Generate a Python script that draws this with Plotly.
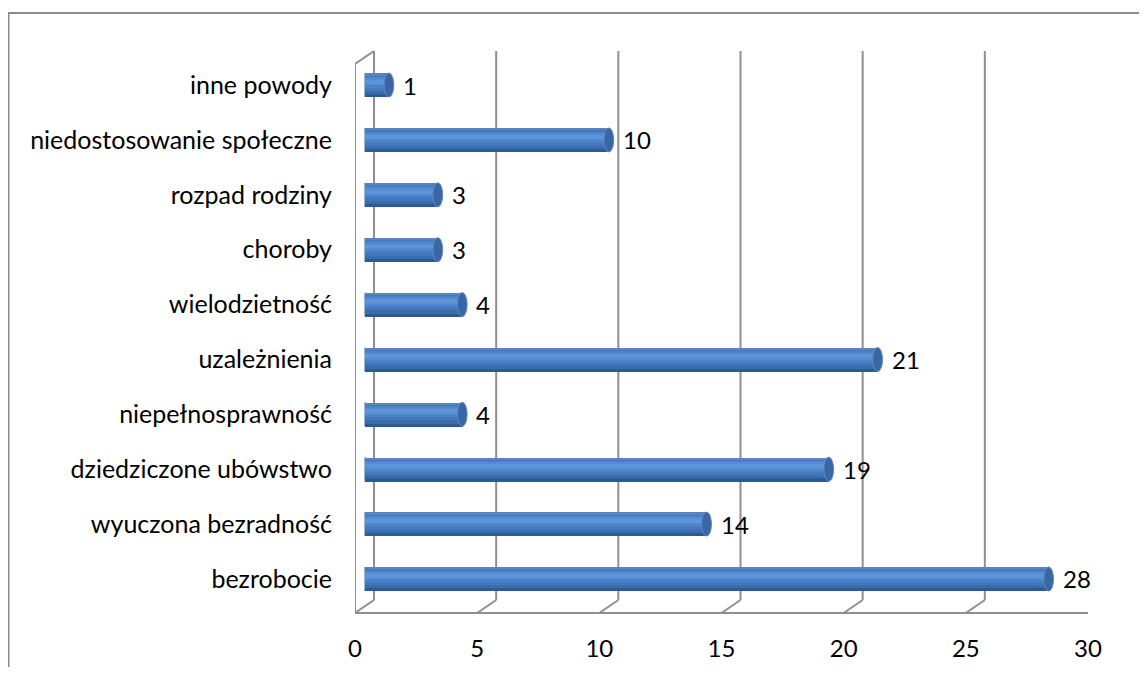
import plotly.graph_objects as go

# ---- data ----
categories = ["bezrobocie", "wyuczona bezradność", "dziedziczone ubówstwo",
              "niepełnosprawność", "uzależnienia", "wielodzietność", "choroby",
              "rozpad rodziny", "niedostosowanie społeczne", "inne powody"]
values = [28, 14, 19, 4, 21, 4, 3, 3, 10, 1]
tick_values = [0, 5, 10, 15, 20, 25, 30]
tick_labels = ["0", "5", "10", "15", "20", "25", "30"]

# page body has an 8px margin: figure is sized to fit the window
OFF = 8
W, H = 1147 - 2 * OFF, 675 - 2 * OFF
def px(x): return (x - OFF) / W
def py(y): return 1 - (y - OFF) / H

FONT = "Lato"
FS_CAT = 25
FS_NUM = 24
WALL = "#8f8f8f"
DX, DY = 19, 13          # 3D depth offset in pixels
FLOOR_Y = 613
WALL_H = 549

fig = go.Figure()

# invisible trace to activate the front axis
fig.add_trace(go.Scatter(x=[0], y=[categories[0]], mode="markers",
                         marker=dict(opacity=0), hoverinfo="skip",
                         showlegend=False, xaxis="x", yaxis="y"))

# cylinder shading: stacked bar layers of the same values
half = 0.2185
layers = [
    (-half, 2 * half, "#2d5a92"),
    (-0.16, 0.16 + half, "#3b6cad"),
    (-0.10, 0.10 + 0.19, "#4478bc"),
    (-0.04, 0.04 + 0.16, "#4d83c8"),
    (0.0, 0.13, "#558cd1"),
    (0.03, 0.07, "#5d95d9"),
    (0.19, half - 0.19, "#5a84bf"),
]
for off, wid, col in layers:
    fig.add_trace(go.Bar(orientation="h", x=values, y=categories,
                         xaxis="x2", yaxis="y", width=wid, offset=off,
                         marker=dict(color=col, line=dict(width=0)),
                         hoverinfo="skip", showlegend=False))

shapes = []
# outer chart border (left and top edges; right/bottom lie outside the view)
shapes.append(dict(type="path", xref="paper", yref="paper",
                   path=f"M {px(8.5)},0 L {px(8.5)},{py(13)} L 1,{py(13)}",
                   line=dict(color="#8a8a8a", width=2), layer="below"))
# back wall gridlines and floor slants
for t in tick_values:
    shapes.append(dict(type="line", xref="x", xsizemode="pixel", xanchor=t,
                       x0=DX, x1=DX, yref="paper", ysizemode="pixel",
                       yanchor=py(FLOOR_Y), y0=DY, y1=DY + WALL_H,
                       line=dict(color=WALL, width=2), layer="below"))
    shapes.append(dict(type="line", xref="x", xsizemode="pixel", xanchor=t,
                       x0=0, x1=DX, yref="paper", ysizemode="pixel",
                       yanchor=py(FLOOR_Y), y0=0, y1=DY,
                       line=dict(color=WALL, width=2), layer="below"))
# front floor edge
shapes.append(dict(type="line", xref="x", x0=tick_values[0], x1=tick_values[-1],
                   yref="paper", y0=py(FLOOR_Y), y1=py(FLOOR_Y),
                   line=dict(color=WALL, width=2), layer="below"))
# left wall front edge and top slant
shapes.append(dict(type="line", xref="x", xsizemode="pixel", xanchor=0,
                   x0=0, x1=0, yref="paper", ysizemode="pixel",
                   yanchor=py(FLOOR_Y), y0=0, y1=WALL_H,
                   line=dict(color=WALL, width=2), layer="below"))
shapes.append(dict(type="line", xref="x", xsizemode="pixel", xanchor=0,
                   x0=0, x1=DX, yref="paper", ysizemode="pixel",
                   yanchor=py(FLOOR_Y), y0=WALL_H, y1=WALL_H + DY,
                   line=dict(color=WALL, width=2), layer="below"))

# cylinder ends
for i, v in enumerate(values):
    shapes.append(dict(type="circle", xref="x2", yref="y",
                       x0=-0.2, x1=0.2, y0=i - half, y1=i + half,
                       fillcolor="#3f70b2", line=dict(width=0), layer="below"))
    shapes.append(dict(type="circle", xref="x2", yref="y",
                       x0=v - 0.2, x1=v + 0.2, y0=i - half, y1=i + half,
                       fillcolor="#3a66a3", line=dict(color="#5d88c4", width=1),
                       layer="above"))

annotations = []
for i, v in enumerate(values):
    annotations.append(dict(x=v, y=i, xref="x2", yref="y", text=str(v),
                            xanchor="left", yanchor="middle", xshift=12,
                            showarrow=False,
                            font=dict(family=FONT, size=FS_NUM, color="#000")))

fig.update_layout(
    width=W, height=H,
    margin=dict(l=0, r=0, t=0, b=0, autoexpand=False),
    paper_bgcolor="white", plot_bgcolor="rgba(0,0,0,0)",
    barmode="overlay", bargap=0,
    showlegend=False,
    font=dict(family=FONT, size=FS_CAT, color="#000"),
    xaxis=dict(domain=[px(355), px(1088)], range=[0, 30], anchor="free",
               position=py(FLOOR_Y), tickvals=tick_values, ticktext=tick_labels,
               ticks="outside", ticklen=14, tickcolor="rgba(0,0,0,0)",
               showgrid=False, showline=False, zeroline=False, automargin=False,
               tickfont=dict(family=FONT, size=FS_NUM, color="#000")),
    xaxis2=dict(domain=[px(364.5), px(1097.5)], range=[0, 30], anchor="y",
                visible=False, showgrid=False, zeroline=False, automargin=False),
    yaxis=dict(domain=[py(606.4), py(57.6)], range=[-0.5, 9.5], anchor="free",
               position=px(355), type="category", categoryorder="array",
               categoryarray=categories, ticks="outside", ticklen=18,
               tickcolor="rgba(0,0,0,0)", showgrid=False, showline=False,
               zeroline=False, automargin=False,
               tickfont=dict(family=FONT, size=FS_CAT, color="#000")),
    shapes=shapes,
    annotations=annotations,
)

fig.write_html("out.html")
